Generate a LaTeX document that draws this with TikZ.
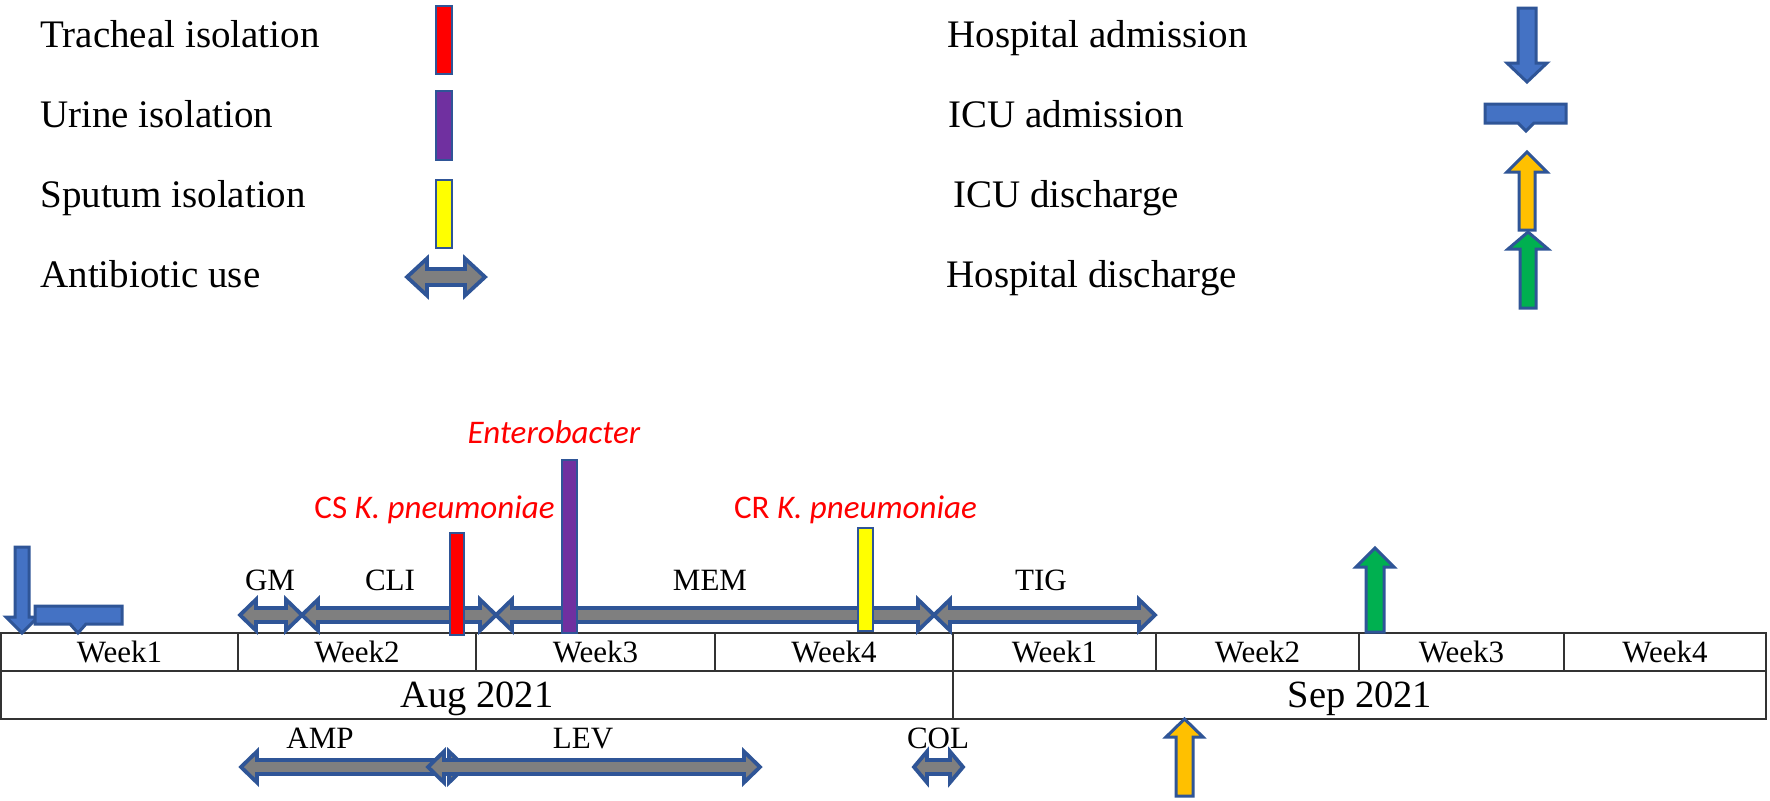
\documentclass[tikz,border=0pt]{standalone}
\usepackage{fontspec}
\setmainfont{Liberation Serif}
\newfontfamily\calibfont{Carlito}
\definecolor{eb}{HTML}{2F5597}
\definecolor{fblue}{HTML}{4472C4}
\definecolor{abgray}{HTML}{7F7F7F}
\definecolor{tred}{HTML}{FF0000}
\definecolor{tpurple}{HTML}{7030A0}
\definecolor{tyellow}{HTML}{FFFF00}
\definecolor{tamber}{HTML}{FFC000}
\definecolor{tgreen}{HTML}{00B050}
\definecolor{tblline}{HTML}{333333}
% double arrow: x1, x2, yc, shaft half, head half, head length
\newcommand{\dblArrowShape}[6]{%
  \draw[abx] (#1,#3) -- (#1+#6,#3-#5) -- (#1+#6,#3-#4) -- (#2-#6,#3-#4) -- (#2-#6,#3-#5)
    -- (#2,#3) -- (#2-#6,#3+#5) -- (#2-#6,#3+#4) -- (#1+#6,#3+#4) -- (#1+#6,#3+#5) -- cycle;}
% vertical arrow: xc, ytip, yheadbase, yend, shaft half, head half, fill
\newcommand{\vArrowShape}[7]{%
  \draw[evarrow, fill=#7] (#1,#2) -- (#1+#6,#3) -- (#1+#5,#3) -- (#1+#5,#4) -- (#1-#5,#4)
    -- (#1-#5,#3) -- (#1-#6,#3) -- cycle;}
% ICU admission: x1, x2, ytop, ybot, xc, ytip
\newcommand{\icuShape}[6]{%
  \draw[evarrow, fill=fblue] (#1,#3) -- (#2,#3) -- (#2,#4) -- (#5+8,#4) -- (#5,#6) -- (#5-8,#4)
    -- (#1,#4) -- cycle;}
\begin{document}
\begin{tikzpicture}[x=0.5pt,y=-0.5pt,
  legtext/.style={anchor=base west, inner sep=0pt, font=\fontsize{19.5}{23}\selectfont},
  weektext/.style={anchor=base, inner sep=0pt, font=\fontsize{15.5}{18}\selectfont},
  monthtext/.style={anchor=base, inner sep=0pt, font=\fontsize{19.25}{23}\selectfont},
  orgtext/.style={anchor=base, inner sep=0pt, text=tred, font=\calibfont\fontsize{16.5}{19}\selectfont},
  barbox/.style={draw=eb, line width=1.4pt},
  abx/.style={draw=eb, fill=abgray, line width=1.9pt, line join=miter},
  evarrow/.style={draw=eb, line width=1.5pt, line join=miter},
  tbl/.style={draw=tblline, line width=1pt}]
\useasboundingbox[fill=white] (0,0) rectangle (1770,800);

% ---------- legend ----------
\node[legtext] (lt) at (40,47) {Tracheal isolation};
\node[legtext] (lu) at (40,127) {Urine isolation};
\node[legtext] (ls) at (40,207) {Sputum isolation};
\node[legtext] (la) at (40,287) {Antibiotic use};
\draw[barbox, fill=tred] (436,6) rectangle (452,74);
\draw[barbox, fill=tpurple] (436,91) rectangle (452,160);
\draw[barbox, fill=tyellow] (436,180) rectangle (452,248);
\dblArrowShape{407}{485}{277}{8}{18.5}{20}

\node[legtext] (rha) at (947,47) {Hospital admission};
\node[legtext] (ria) at (948,127) {ICU admission};
\node[legtext] (rid) at (953,207) {ICU discharge};
\node[legtext] (rhd) at (946,287) {Hospital discharge};
\vArrowShape{1527}{82}{63}{8}{9}{20}{fblue}
\icuShape{1485}{1566}{104}{123}{1526}{131}
\vArrowShape{1527}{152}{172}{230}{8}{20}{tamber}
\vArrowShape{1528}{232}{249}{308}{8}{20}{tgreen}

% ---------- table ----------
\draw[tbl] (1,633) rectangle (1766,719);
\draw[tbl] (1,671) -- (1766,671);
\foreach \xx in {238,476,715,1156,1359,1564} \draw[tbl] (\xx,633) -- (\xx,671);
\draw[tbl] (953,633) -- (953,719);
\node[weektext] (w1) at (119.5,662) {Week1};
\node[weektext] (w2) at (357,662) {Week2};
\node[weektext] (w3) at (595.5,662) {Week3};
\node[weektext] (w4) at (834,662) {Week4};
\node[weektext] (s1) at (1054.5,662) {Week1};
\node[weektext] (s2) at (1257.5,662) {Week2};
\node[weektext] (s3) at (1461.5,662) {Week3};
\node[weektext] (s4) at (1665,662) {Week4};
\node[monthtext] (aug) at (477,707) {Aug 2021};
\node[monthtext] (sep) at (1360,707) {Sep 2021};

% ---------- antibiotics ----------
\dblArrowShape{240}{302}{615}{7}{15.5}{16}
\dblArrowShape{302}{496}{615}{7}{15.5}{16}
\dblArrowShape{496}{934}{615}{7}{15.5}{16}
\dblArrowShape{934}{1155}{615}{7}{15.5}{16}
\node[weektext] (gm) at (270,590) {GM};
\node[weektext] (cli) at (390,590) {CLI};
\node[weektext] (mem) at (710,590) {MEM};
\node[weektext] (tig) at (1041,590) {TIG};

\dblArrowShape{241}{465}{767}{7}{15.5}{16}
\dblArrowShape{428}{760}{767}{7}{15.5}{16}
\dblArrowShape{914}{963}{767}{7}{15.5}{13}
\node[weektext] (amp) at (320,748) {AMP};
\node[weektext] (lev) at (583,748) {LEV};
\node[weektext] (col) at (938,748) {COL};

% ---------- events ----------
\vArrowShape{22}{633}{617}{547}{7}{16}{fblue}
\icuShape{35}{122}{606}{624}{78}{633}
\vArrowShape{1375}{548}{567}{632}{9}{19}{tgreen}
\vArrowShape{1184.5}{719}{737}{796}{8.5}{18.5}{tamber}

% ---------- isolations ----------
\draw[barbox, fill=tred] (450,533) rectangle (464,635);
\draw[barbox, fill=tpurple] (562,460) rectangle (577,633);
\draw[barbox, fill=tyellow] (858,528) rectangle (873,631);
\node[orgtext] (cs) at (434.5,518) {CS \textit{K. pneumoniae}};
\node[orgtext] (ent) at (554,443) {\textit{Enterobacter}};
\node[orgtext] (cr) at (855.5,518) {CR \textit{K. pneumoniae}};
\end{tikzpicture}
\end{document}
